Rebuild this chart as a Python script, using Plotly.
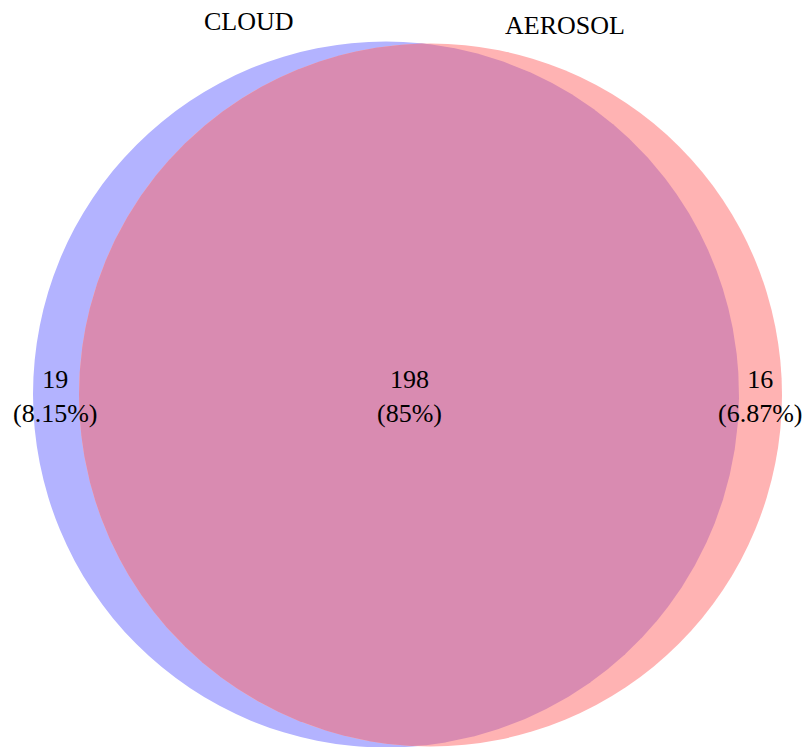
import numpy as np
import plotly.graph_objects as go

# ---- data ----
set_names = ["CLOUD", "AEROSOL"]
region_names = ["CLOUD only", "CLOUD & AEROSOL", "AEROSOL only"]
region_counts = [19, 198, 16]
region_pcts = ["8.15%", "85%", "6.87%"]

# ---- layout (pixel space) ----
W, H = 804, 747
c1 = (386.0, 394.5, 353.0)   # CLOUD circle: cx, cy, r
c2 = (430.5, 395.0, 351.5)   # AEROSOL circle
col_blue = "#b3b3ff"
col_red = "#ffb3b3"
col_mix = "#d98bb1"
font = "Liberation Serif, Times New Roman, serif"

fig = go.Figure()

# circles
for (cx, cy, r), col in [(c1, col_blue), (c2, col_red)]:
    fig.add_shape(type="circle", xref="x", yref="y",
                  x0=cx - r, x1=cx + r, y0=cy - r, y1=cy + r,
                  fillcolor=col, line=dict(width=0), layer="below")

# lens (intersection) polygon
def inside(px, py, c):
    return (px - c[0]) ** 2 + (py - c[1]) ** 2 <= c[2] ** 2 + 1e-6

t = np.linspace(0, 2 * np.pi, 4000)
p1 = [(c1[0] + c1[2] * np.cos(a), c1[1] + c1[2] * np.sin(a)) for a in t]
p2 = [(c2[0] + c2[2] * np.cos(a), c2[1] + c2[2] * np.sin(a)) for a in t]
pts = [p for p in p1 if inside(p[0], p[1], c2)] + [p for p in p2 if inside(p[0], p[1], c1)]
mx = np.mean([p[0] for p in pts]); my = np.mean([p[1] for p in pts])
pts.sort(key=lambda p: np.arctan2(p[1] - my, p[0] - mx))
xs = [p[0] for p in pts] + [pts[0][0]]
ys = [p[1] for p in pts] + [pts[0][1]]
fig.add_trace(go.Scatter(x=xs, y=ys, mode="lines", fill="toself",
                         fillcolor=col_mix, line=dict(width=0, color=col_mix),
                         hoverinfo="skip", showlegend=False))

# set labels
set_label_pos = [(249, 21), (565, 25)]
for name, (x, y) in zip(set_names, set_label_pos):
    fig.add_annotation(x=x, y=y, text=name, showarrow=False,
                       font=dict(family=font, size=26, color="black"))

# region labels
region_pos = [(55, 396), (409, 396), (760, 396)]
for n, p, (x, y) in zip(region_counts, region_pcts, region_pos):
    fig.add_annotation(x=x, y=y, text=f"{n}<br>({p})", showarrow=False,
                       font=dict(family=font, size=26, color="black"))

fig.update_layout(
    width=W, height=H, margin=dict(l=0, r=0, t=0, b=0),
    paper_bgcolor="white", plot_bgcolor="white", showlegend=False,
    xaxis=dict(range=[0, W], visible=False, fixedrange=True),
    yaxis=dict(range=[H, 0], visible=False, fixedrange=True),
)
fig.write_html("out.html", config={"displayModeBar": False},
               post_script="document.body.style.margin='0';document.body.style.overflow='hidden';")
